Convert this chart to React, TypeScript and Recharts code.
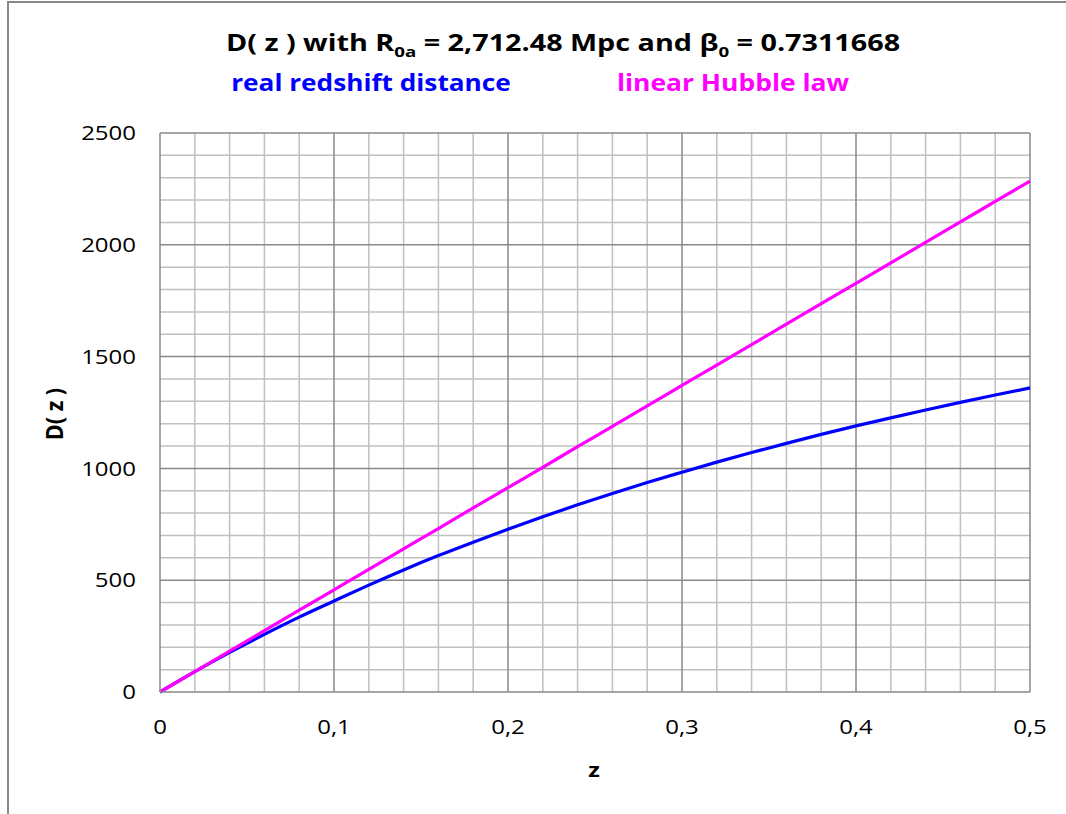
import React from "react";
import { LineChart, Line, XAxis, YAxis, ReferenceLine } from "recharts";

const zValues = [0, 0.02, 0.04, 0.06, 0.08, 0.1, 0.12, 0.14, 0.16, 0.18, 0.2, 0.22, 0.24, 0.26, 0.28, 0.3, 0.32, 0.34, 0.36, 0.38, 0.4, 0.42, 0.44, 0.46, 0.48, 0.5];
const realDistance = [0, 91, 177, 258, 335, 407, 478, 546, 610, 670, 728, 784, 837, 888, 937, 983, 1028, 1071, 1112, 1152, 1190, 1226, 1261, 1295, 1328, 1360];
const hubbleLaw = [0, 91, 183, 274, 366, 457, 548, 640, 731, 823, 914, 1005, 1097, 1188, 1280, 1371, 1462, 1554, 1645, 1737, 1828, 1919, 2011, 2102, 2194, 2285];

const xMajorTicks = [0, 0.1, 0.2, 0.3, 0.4, 0.5];
const yMajorTicks = [0, 500, 1000, 1500, 2000, 2500];
const xMinorGrid = [0.02, 0.04, 0.06, 0.08, 0.12, 0.14, 0.16, 0.18, 0.22, 0.24, 0.26, 0.28, 0.32, 0.34, 0.36, 0.38, 0.42, 0.44, 0.46, 0.48];
const yMinorGrid = [100, 200, 300, 400, 600, 700, 800, 900, 1100, 1200, 1300, 1400, 1600, 1700, 1800, 1900, 2100, 2200, 2300, 2400];

const data = zValues.map((z, i) => ({ z, real: realDistance[i], hubble: hubbleLaw[i] }));

const FONT = "'Open Sans', 'DejaVu Sans', sans-serif";
const MINOR = "#c0c0c0";
const MAJOR = "#898989";
const SX = 1.2;

const XTick = (props: any) => {
  const { x, y, payload } = props;
  return (
    <text
      transform={`translate(${x},${y}) scale(${SX},1)`}
      textAnchor="middle"
      dy="0.71em"
      fontFamily={FONT}
      fontSize={20}
      fill="#000"
    >
      {String(payload.value).replace(".", ",")}
    </text>
  );
};

const YTick = (props: any) => {
  const { x, y, payload } = props;
  return (
    <text
      transform={`translate(${x + 2},${y}) scale(${SX},1)`}
      textAnchor="end"
      dy="0.355em"
      fontFamily={FONT}
      fontSize={20}
      fill="#000"
    >
      {String(payload.value)}
    </text>
  );
};

export default function App() {
  return (
    <div style={{ position: "fixed", left: 0, top: 0, width: 1066, height: 814, overflow: "hidden", background: "#fff" }}>
      <div
        style={{
          position: "absolute",
          left: 7,
          top: 1,
          width: 1100,
          height: 900,
          borderLeft: "2px solid #888",
          borderTop: "2px solid #888",
        }}
      />
      <div style={{ position: "absolute", left: 0, top: 0 }}>
        <LineChart width={1066} height={814} data={data} margin={{ top: 133, right: 36, bottom: 62, left: 100 }}>
          <XAxis
            dataKey="z"
            type="number"
            domain={[0, 0.5]}
            ticks={xMajorTicks}
            tickLine={false}
            tickSize={0}
            tickMargin={28}
            height={60}
            axisLine={{ stroke: MAJOR, strokeWidth: 1.5 }}
            tick={<XTick />}
            interval={0}
          />
          <YAxis
            type="number"
            domain={[0, 2500]}
            ticks={yMajorTicks}
            tickLine={false}
            tickSize={0}
            tickMargin={26}
            width={60}
            axisLine={{ stroke: MAJOR, strokeWidth: 1.5 }}
            tick={<YTick />}
            interval={0}
          />
          {xMinorGrid.map((v) => (
            <ReferenceLine key={"xm" + v} x={v} stroke={MINOR} strokeWidth={1.5} />
          ))}
          {yMinorGrid.map((v) => (
            <ReferenceLine key={"ym" + v} y={v} stroke={MINOR} strokeWidth={1.5} />
          ))}
          {xMajorTicks.slice(1).map((v) => (
            <ReferenceLine key={"xM" + v} x={v} stroke={MAJOR} strokeWidth={1.5} />
          ))}
          {yMajorTicks.slice(1).map((v) => (
            <ReferenceLine key={"yM" + v} y={v} stroke={MAJOR} strokeWidth={1.5} />
          ))}
          <Line type="monotone" dataKey="real" stroke="#0000ff" strokeWidth={3.2} dot={false} isAnimationActive={false} />
          <Line type="monotone" dataKey="hubble" stroke="#ff00ff" strokeWidth={3.2} dot={false} isAnimationActive={false} />
        </LineChart>
      </div>
      <svg width={1066} height={814} style={{ position: "absolute", left: 0, top: 0, pointerEvents: "none" }}>
        <text
          transform="translate(563 51) scale(1.25 1)"
          textAnchor="middle"
          fontFamily={FONT}
          fontWeight={700}
          fontSize={23}
          fill="#000"
        >
          D( z ) with R<tspan fontSize={15} dy={6}>0a</tspan>
          <tspan dy={-6}> = 2,712.48 Mpc and β</tspan>
          <tspan fontSize={15} dy={6}>0</tspan>
          <tspan dy={-6}> = 0.7311668</tspan>
        </text>
        <text transform="translate(371 91) scale(1.14 1)" textAnchor="middle" fontFamily={FONT} fontWeight={700} fontSize={23} fill="#0000ff">
          real redshift distance
        </text>
        <text transform="translate(733 91) scale(1.15 1)" textAnchor="middle" fontFamily={FONT} fontWeight={700} fontSize={23} fill="#ff00ff">
          linear Hubble law
        </text>
        <text
          transform="translate(63 414) rotate(-90) scale(1.2 1.25)"
          textAnchor="middle"
          fontFamily={FONT}
          fontWeight={700}
          fontSize={18}
          fill="#000"
        >
          D( z )
        </text>
        <text transform="translate(594 777) scale(1.25 1)" textAnchor="middle" fontFamily={FONT} fontWeight={700} fontSize={19} fill="#000">
          z
        </text>
      </svg>
    </div>
  );
}
